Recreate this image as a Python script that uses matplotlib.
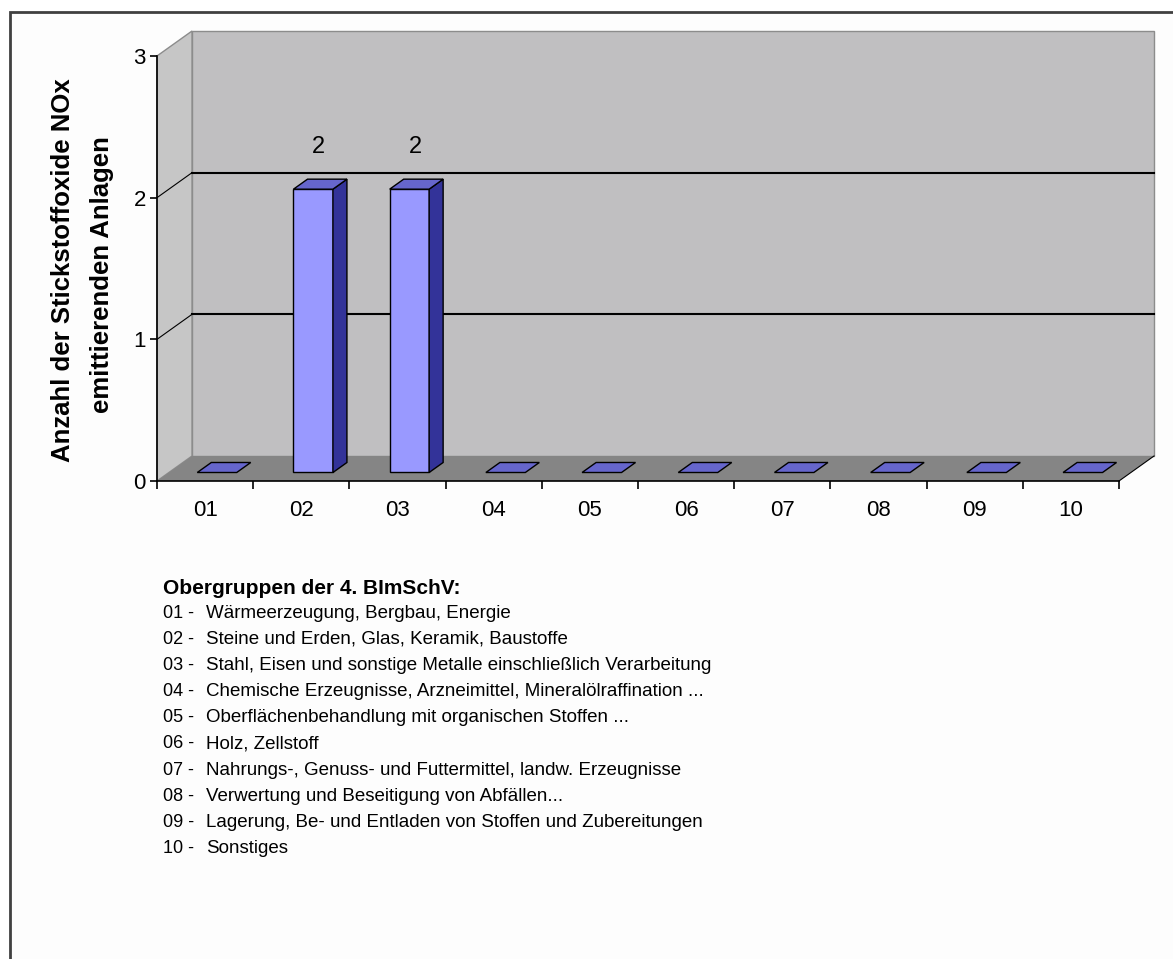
import matplotlib
matplotlib.use("Agg")
import matplotlib.pyplot as plt
from matplotlib.patches import Polygon, Rectangle

# data
categories = ["01", "02", "03", "04", "05", "06", "07", "08", "09", "10"]
values = [0, 2, 2, 0, 0, 0, 0, 0, 0, 0]
y_ticks = [0, 1, 2, 3]

ylabel_lines = ["Anzahl der Stickstoffoxide NOx", "emittierenden Anlagen"]
legend_title = "Obergruppen der 4. BImSchV:"
legend_codes = ["01 -", "02 -", "03 -", "04 -", "05 -", "06 -", "07 -", "08 -", "09 -", "10 -"]
legend_texts = [
    "Wärmeerzeugung, Bergbau, Energie",
    "Steine und Erden, Glas, Keramik, Baustoffe",
    "Stahl, Eisen und sonstige Metalle einschließlich Verarbeitung",
    "Chemische Erzeugnisse, Arzneimittel, Mineralölraffination ...",
    "Oberflächenbehandlung mit organischen Stoffen ...",
    "Holz, Zellstoff",
    "Nahrungs-, Genuss- und Futtermittel, landw. Erzeugnisse",
    "Verwertung und Beseitigung von Abfällen...",
    "Lagerung, Be- und Entladen von Stoffen und Zubereitungen",
    "Sonstiges",
]

W, H = 1173, 959
DX, DY = 0.364, 0.1765      # depth offset of the back wall (data units)
F0, F1 = 0.34, 0.74         # depth range of the bars
BAR_W = 0.41
NARROW = ["Liberation Sans Narrow", "Liberation Sans", "DejaVu Sans"]

plt.rcParams["font.family"] = ["Liberation Sans", "DejaVu Sans"]

fig = plt.figure(figsize=(W / 100, H / 100), dpi=100)
fig.patch.set_facecolor("white")

# outer chart frame (only left and top edges visible)
frame = Rectangle((10 / W, -0.05), 1.2, 1 - 12 / H + 0.05, transform=fig.transFigure,
                  facecolor="#fdfdfd", edgecolor="#404040", lw=2, zorder=-10)
fig.patches.append(frame)

ax = fig.add_axes([157 / W, 1 - 481 / H, 962 / W, 425 / H])
ax.set_xlim(0, len(categories))
ax.set_ylim(0, y_ticks[-1])
ax.patch.set_visible(False)


def poly(pts, fc, ec="none", lw=0.0, z=1):
    ax.add_patch(Polygon(pts, closed=True, facecolor=fc, edgecolor=ec, lw=lw,
                         zorder=z, clip_on=False))


n = len(categories)
top = y_ticks[-1]

# walls and floor
poly([(DX, DY), (n + DX, DY), (n + DX, top + DY), (DX, top + DY)], "#c0bfc1", "#8c8c8c", 1, 1)
poly([(0, 0), (DX, DY), (DX, top + DY), (0, top)], "#c6c6c6", "#8c8c8c", 1, 1)
poly([(0, 0), (n, 0), (n + DX, DY), (DX, DY)], "#858585", "none", 0, 2)

# gridlines
for v in y_ticks[1:-1]:
    ax.plot([DX, n + DX], [v + DY, v + DY], color="black", lw=1.5, zorder=2, clip_on=False)
    ax.plot([0, DX], [v, v + DY], color="black", lw=0.8, zorder=2, clip_on=False)
ax.plot([n, n + DX], [0, DY], color="black", lw=0.8, zorder=2, clip_on=False)

# bars
ox0, oy0 = F0 * DX, F0 * DY
ox1, oy1 = F1 * DX, F1 * DY
for i, v in enumerate(values):
    xl = i + 0.5 - BAR_W / 2
    xr = xl + BAR_W
    if v > 0:
        poly([(xl + ox0, oy0), (xr + ox0, oy0), (xr + ox0, v + oy0), (xl + ox0, v + oy0)],
             "#9999ff", "black", 1, 4)
        poly([(xr + ox0, oy0), (xr + ox1, oy1), (xr + ox1, v + oy1), (xr + ox0, v + oy0)],
             "#333399", "black", 1, 4)
        ax.text(i + 0.5 + 0.5 * DX, v + 0.36, str(v), ha="center", va="center",
                fontsize=17, family=NARROW, zorder=5)
    poly([(xl + ox0, v + oy0), (xr + ox0, v + oy0), (xr + ox1, v + oy1), (xl + ox1, v + oy1)],
         "#6666cc", "black", 1, 4)

# axes
for s in ["top", "right"]:
    ax.spines[s].set_visible(False)
for s in ["left", "bottom"]:
    ax.spines[s].set_color("black")
    ax.spines[s].set_linewidth(1.2)

ax.set_xticks(range(n + 1))
ax.set_xticklabels([])
ax.set_xticks([i + 0.5 for i in range(n)], minor=True)
ax.set_xticklabels(categories, minor=True, family=NARROW)
ax.tick_params(axis="x", which="major", direction="out", length=6, width=1.2)
ax.tick_params(axis="x", which="minor", length=0, pad=14, labelsize=16)
ax.set_yticks(y_ticks)
ax.set_yticklabels([str(t) for t in y_ticks], family=NARROW)
ax.tick_params(axis="y", direction="out", length=5, width=1.2, pad=3, labelsize=16)

# y axis title, two lines
fig.text(63 / W, 1 - 270 / H, ylabel_lines[0], rotation=90, ha="center", va="center",
         fontsize=18.5, fontweight="bold")
fig.text(102 / W, 1 - 275 / H, ylabel_lines[1], rotation=90, ha="center", va="center",
         fontsize=18.5, fontweight="bold")

# legend block below the chart
fig.text(163 / W, 1 - 588 / H, legend_title, ha="left", va="center",
         fontsize=15, fontweight="bold")
for k, (code, txt) in enumerate(zip(legend_codes, legend_texts)):
    y = 1 - (613 + 26.2 * k) / H
    fig.text(163 / W, y, code, ha="left", va="center", fontsize=13)
    fig.text(206 / W, y, txt, ha="left", va="center", fontsize=13.5)

fig.savefig("out.png", dpi=100)
